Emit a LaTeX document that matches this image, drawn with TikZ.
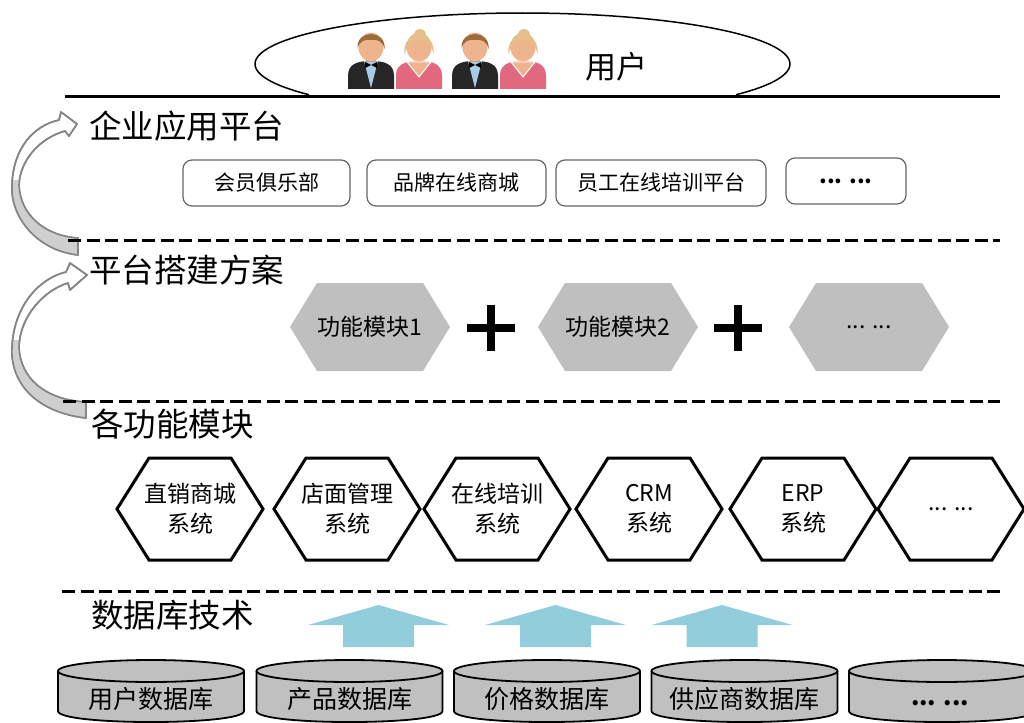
\documentclass[tikz,border=0pt]{standalone}
\usepackage{fontspec}
\setmainfont{Noto Sans CJK SC}
\definecolor{hexgray}{HTML}{BFBFBF}
\definecolor{cylgray}{HTML}{C0C0C0}
\definecolor{dbblue}{HTML}{92CDDC}
\definecolor{arrgray}{HTML}{858585}
\definecolor{arrfill}{HTML}{CFCFCF}
\definecolor{skin}{HTML}{EDB48E}
\definecolor{manhair}{HTML}{9C6B3C}
\definecolor{womanhair}{HTML}{E6C08A}
\definecolor{dress}{HTML}{E2687F}
\definecolor{shirt}{HTML}{A8CBE6}
\begin{document}
\begin{tikzpicture}[x=1pt,y=-1pt,
  sect/.style={anchor=west,inner sep=0pt,font=\fontsize{32.5}{34}\selectfont},
  appbox/.style={draw=black!60,line width=1.2pt,rounded corners=9pt,minimum height=46pt,
    inner sep=0pt,font=\fontsize{21}{23}\selectfont},
  divider/.style={line width=3pt,dash pattern=on 13pt off 5.5pt},
  hexlabel/.style={align=center,inner sep=0pt,font=\fontsize{23}{30}\selectfont},
  dblabel/.style={inner sep=0pt,font=\fontsize{25}{27}\selectfont},
  bandarrow/.style={draw=arrgray,line width=1.6pt,line join=round,fill=white}]

\clip (0,0) rectangle (1024,722);
\fill[white] (0,0) rectangle (1024,722);

% ---------- users ----------
\draw[line width=1.5pt] plot[domain=-37:217,samples=120,smooth]
  ({522.5+267.5*cos(\x)},{64-51*sin(\x)});
\draw[line width=3pt] (65,97) -- (1000,97);

\foreach \cx in {371,475}{
  \fill[black!85] (\cx-23,89) -- (\cx-23,76) .. controls (\cx-23,64) and (\cx-14,61) .. (\cx,61)
    .. controls (\cx+14,61) and (\cx+23,64) .. (\cx+23,76) -- (\cx+23,89) -- cycle;
  \fill[shirt] (\cx-7,61) -- (\cx+7,61) -- (\cx,88) -- cycle;
  \fill[skin!85!black] (\cx-5,55) rectangle (\cx+5,62);
  \fill[black] (\cx-6,62) -- (\cx+6,68) -- (\cx+6,62) -- (\cx-6,68) -- cycle;
  \fill[skin] (\cx,47) ellipse[x radius=12.5,y radius=14.5];
  \fill[manhair] (\cx-13.5,49) .. controls (\cx-15.5,29) and (\cx+15.5,29) .. (\cx+13.5,49)
    .. controls (\cx+12,41) and (\cx+6,39) .. (\cx,40) .. controls (\cx-6,39) and (\cx-12,41) .. cycle;
}
\foreach \cx in {419,523}{
  \fill[dress] (\cx-23,89) -- (\cx-23,76) .. controls (\cx-23,64) and (\cx-14,61) .. (\cx,61)
    .. controls (\cx+14,61) and (\cx+23,64) .. (\cx+23,76) -- (\cx+23,89) -- cycle;
  \filldraw[fill=skin,draw=white,line width=1pt] (\cx-12,62) -- (\cx+12,62) -- (\cx,77) -- cycle;
  \fill[skin] (\cx,47) ellipse[x radius=12.5,y radius=14.5];
  \fill[womanhair] (\cx-14.5,54) .. controls (\cx-17.5,29) and (\cx+17.5,29) .. (\cx+14.5,54)
    .. controls (\cx+12,42) and (\cx+5,39) .. (\cx-2,40) .. controls (\cx-8,42) and (\cx-12,46) .. cycle;
  \fill[womanhair] (\cx+1,35) circle[radius=6];
}
\node[inner sep=0pt,font=\fontsize{31}{33}\selectfont] (users) at (616,67) {用户};

% ---------- curved arrows between the layers ----------
\def\bandA{(78,255) .. controls (35,250) and (10,215) .. (12,185)
  .. controls (13,150) and (32,126) .. (59,120) -- (61,112) -- (77,124) -- (69,136) -- (65,131)
  .. controls (40,138) and (20,160) .. (19,185) .. controls (20,215) and (45,236) .. (78,238) -- cycle}
\def\bandB{(86,418) .. controls (35,412) and (10,382) .. (12,347)
  .. controls (14,305) and (40,278) .. (66,272) -- (70,263) -- (87,275) -- (70,290) -- (68,283)
  .. controls (45,290) and (20,315) .. (19,347) .. controls (20,378) and (45,400) .. (86,402) -- cycle}
\path[bandarrow] \bandA;
\begin{scope}
  \clip \bandA;
  \fill[arrfill] (0,180) rectangle (90,260);
\end{scope}
\draw[draw=arrgray,line width=1.6pt,line join=round] \bandA;

\path[bandarrow] \bandB;
\begin{scope}
  \clip \bandB;
  \fill[arrfill] (0,340) rectangle (95,420);
\end{scope}
\draw[draw=arrgray,line width=1.6pt,line join=round] \bandB;

% ---------- enterprise applications ----------
\node[sect] (l1) at (89,126) {企业应用平台};
\node[appbox,minimum width=167pt] (app1) at (266.5,183) {会员俱乐部};
\node[appbox,minimum width=179pt] (app2) at (456.5,183) {品牌在线商城};
\node[appbox,minimum width=210pt] (app3) at (661,183) {员工在线培训平台};
\node[appbox,minimum width=120pt,font=\fontsize{22}{24}\selectfont\bfseries] (app4) at (846,181) {... ...};
\draw[divider] (68,240) -- (1000,240);

% ---------- platform build ----------
\node[sect] (l2) at (89,270) {平台搭建方案};
\foreach \cx/\nm/\txt in {370/fm1/功能模块1,618/fm2/功能模块2,869/fm3/{... ...}}{
  \fill[hexgray] (\cx-80,327) -- (\cx-53,283) -- (\cx+53,283) -- (\cx+80,327)
    -- (\cx+53,371) -- (\cx-53,371) -- cycle;
  \node[hexlabel] (\nm) at (\cx,327) {\txt};
}
\node[inner sep=0pt] (plus1) at (491,328) {};
\node[inner sep=0pt] (plus2) at (738,328) {};
\draw[line width=8pt] ([xshift=-24pt]plus1.center) -- ([xshift=24pt]plus1.center)
  ([yshift=-23pt]plus1.center) -- ([yshift=23pt]plus1.center);
\draw[line width=8pt] ([xshift=-24pt]plus2.center) -- ([xshift=24pt]plus2.center)
  ([yshift=-23pt]plus2.center) -- ([yshift=23pt]plus2.center);
\draw[divider] (63,401) -- (1000,401);

% ---------- function modules ----------
\node[sect] (l3) at (91,424) {各功能模块};
\foreach \cx/\nm/\txt in {190/m1/{直销商城\\系统},347/m2/{店面管理\\系统},497/m3/{在线培训\\系统},
    649/m4/{CRM\\系统},803/m5/{ERP\\系统},951/m6/{... ...}}{
  \draw[line width=3pt,line join=miter] (\cx-73,509) -- (\cx-41,458) -- (\cx+41,458) -- (\cx+73,509)
    -- (\cx+41,560) -- (\cx-41,560) -- cycle;
  \node[hexlabel] (\nm) at (\cx,509) {\txt};
}
\draw[divider] (62,591) -- (1000,591);

% ---------- databases ----------
\node[sect] (l4) at (91,615) {数据库技术};
\foreach \cx in {378.5,555.5,722}{
  \fill[dbblue] (\cx-35.5,647) -- (\cx-35.5,625) -- (\cx-70.5,625) -- (\cx,605)
    -- (\cx+70.5,625) -- (\cx+35.5,625) -- (\cx+35.5,647) -- cycle;
}
\foreach \cx/\nm/\txt in {151/db1/用户数据库,349.5/db2/产品数据库,547/db3/价格数据库,
    744.5/db4/供应商数据库,942/db5/{}}{
  \filldraw[fill=cylgray,draw=black,line width=1.8pt] (\cx-93,671) -- (\cx-93,711)
    .. controls (\cx-93,725.7) and (\cx+93,725.7) .. (\cx+93,711) -- (\cx+93,671);
  \filldraw[fill=cylgray,draw=black,line width=1.8pt] (\cx,671) ellipse[x radius=93,y radius=11];
  \node[dblabel] (\nm) at (\cx,699) {\txt};
}
\node[inner sep=0pt,font=\fontsize{24}{26}\selectfont\bfseries] (db5dots) at (940,703) {... ...};
\end{tikzpicture}
\end{document}
